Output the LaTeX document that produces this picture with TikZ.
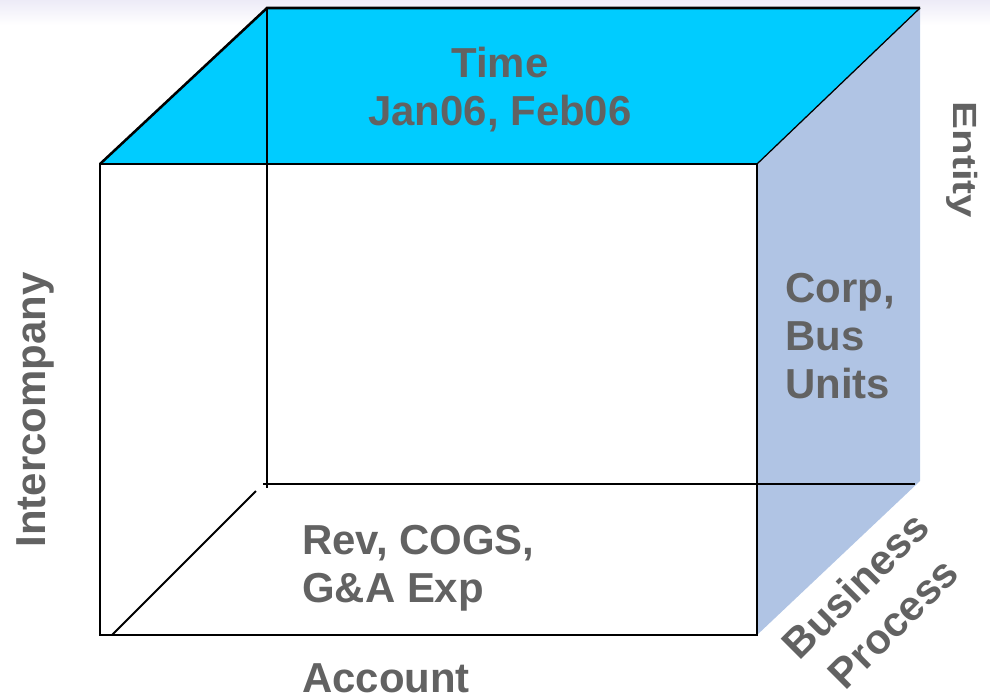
\documentclass[tikz,border=0pt]{standalone}
\usepackage{fontspec}
\setmainfont{Liberation Sans}
\definecolor{timecyan}{HTML}{00CCFF}
\definecolor{entityblue}{HTML}{B0C4E4}
\definecolor{labelgray}{HTML}{626262}
\definecolor{topfade}{HTML}{EDEBF7}

\begin{document}
\begin{tikzpicture}[x=0.025cm, y=-0.025cm, dimlabel/.style={text=labelgray, font=\fontsize{29.8}{34}\selectfont\bfseries, inner sep=0pt}, frontedge/.style={draw=black, line width=1.8pt}, backedge/.style={draw=black, line width=1.4pt}, thinedge/.style={draw=black, line width=0.9pt} ]
\useasboundingbox (0,0) rectangle (990,696);
\shade [top color=topfade, bottom color=white] (0,0) rectangle (990,25);
% cube corners
\coordinate (ftl) at (100,164);
\coordinate (ftr) at (757,164);
\coordinate (fbr) at (757,635);
\coordinate (fbl) at (100,635);
\coordinate (btl) at (267,8);
\coordinate (btr) at (920,8);
\coordinate (bbr) at (920,481);
\coordinate (bvl) at (267,488);
\coordinate (bhl) at (263,484);
\coordinate (bhr) at (915,484);
\coordinate (dgl) at (112,635);
\coordinate (dgu) at (256,491);
  \begin{scope}
    \fill [timecyan] (ftl) -- (btl) -- (btr) -- (ftr) -- cycle;
    \fill [entityblue] (ftr) -- (btr) -- (bbr) -- (fbr) -- cycle;
  \end{scope}
  \begin{scope}
    \draw [backedge] (btl) -- (bvl);
    \draw [backedge] (bhl) -- (bhr);
    \draw [backedge] (dgl) -- (dgu);
    \draw [thinedge] (ftr) -- (btr);
    \draw [frontedge] (ftl) -- (btl) -- (btr);
    \draw [frontedge] (fbl) rectangle (ftr);
  \end{scope}
\node (time) [dimlabel, align=center, anchor=base] at (500,125) {Time\\Jan06, Feb06};
\node (entity) [dimlabel, rotate=-90, yscale=0.8, anchor=base] at (953,160) {Entity};
\node (units) [dimlabel, align=left, anchor=base west] at (785,398) {Corp,\\Bus\\Units};
\node (interco) [dimlabel, rotate=90, anchor=base] at (45,410) {Intercompany};
\node (accts) [dimlabel, align=left, anchor=base west] at (302,602) {Rev, COGS,\\G\&A Exp};
\node (account) [dimlabel, anchor=base west] at (302,692) {Account};
\node (process) [dimlabel, font=\fontsize{29.8}{38}\selectfont\bfseries, align=center, rotate=45] at (874,604) {Business\\Process};
\end{tikzpicture}
\end{document}
